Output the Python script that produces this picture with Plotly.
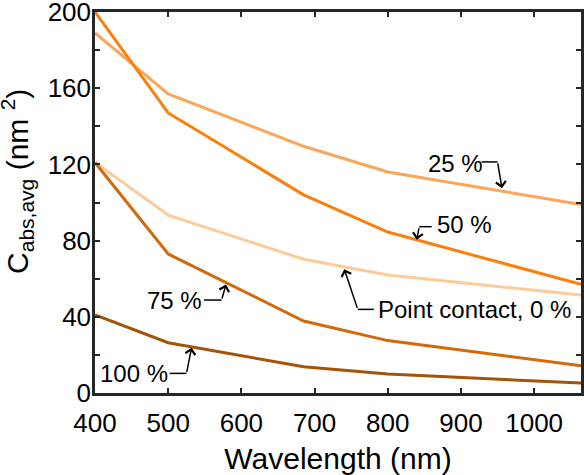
import plotly.graph_objects as go

wavelength = [400, 500, 685, 800, 1064]
c_25 = [189, 157, 129.5, 116, 99]
c_50 = [200, 147, 104, 84.5, 57]
c_pc = [121, 93.4, 70.2, 62, 51.4]
c_75 = [121, 73, 37.8, 27.5, 14.3]
c_100 = [41, 26.4, 13.8, 10, 5.2]

series = [
    ("Point contact, 0 %", c_pc, "#FDCB98"),
    ("25 %", c_25, "#FBA65A"),
    ("50 %", c_50, "#FB7F0C"),
    ("75 %", c_75, "#D06A0C"),
    ("100 %", c_100, "#A3540A"),
]

y_ticks = list(range(0, 201, 20))
y_ticktext = [str(v) if v % 40 == 0 else "" for v in y_ticks]
x_ticks = [400, 500, 600, 700, 800, 900, 1000]

FONT = "Arial, Liberation Sans, sans-serif"
AXC = "#262626"

fig = go.Figure()
for name, vals, col in series:
    fig.add_trace(go.Scatter(x=wavelength, y=vals, mode="lines", name=name,
                             line=dict(color=col, width=3), showlegend=False))

# label: (text, text_x, text_y, seg_x0, seg_x1, seg_y, tip_x, tip_y)
labels = [
    ("25 %", 892, 120.7, 928, 950, 121.3, 956, 107.5),
    ("50 %", 905, 88.2, 860, 843, 87.3, 839.5, 80.5),
    ("Point contact, 0 %", 918, 44, 781, 759, 43.9, 740.6, 65),
    ("75 %", 509, 48.3, 549, 573, 48.8, 579, 57),
    ("100 %", 453, 10, 502, 525, 10.3, 532, 23.8),
]

for text, tx, ty, sx0, sx1, sy, px, py in labels:
    fig.add_annotation(x=tx, y=ty, text=text, showarrow=False,
                       font=dict(family=FONT, size=24, color="black"))
    fig.add_shape(type="line", x0=sx0, x1=sx1, y0=sy, y1=sy, xref="x", yref="y",
                  line=dict(color="black", width=1.5))
    fig.add_annotation(x=px, y=py, ax=sx1, ay=sy, axref="x", ayref="y", text="",
                       showarrow=True, arrowhead=4, arrowsize=1.3, arrowwidth=1.5,
                       arrowcolor="black")

# y-axis title as rotated annotation
fig.add_annotation(x=0, xref="paper", xshift=-78, y=0.554, yref="paper",
                   text="C<sub>abs,avg</sub> (nm <sup>2</sup>)", textangle=-90,
                   showarrow=False, xanchor="center", yanchor="middle",
                   font=dict(family=FONT, size=30, color="black"))

fig.update_layout(
    width=584, height=475,
    margin=dict(l=95, r=3, t=12, b=82),
    paper_bgcolor="white", plot_bgcolor="white",
    font=dict(family=FONT, size=26, color="black"),
)
fig.update_xaxes(range=[400, 1064], tickvals=x_ticks, ticks="inside", ticklen=5,
                 tickwidth=2, tickcolor=AXC, showline=True, linecolor=AXC, linewidth=2.5,
                 mirror="ticks", showgrid=False, zeroline=False, automargin=False,
                 tickfont=dict(size=26), ticklabelstandoff=5, ticklabeloverflow="allow",
                 title=dict(text="Wavelength (nm)", font=dict(size=30), standoff=14))
fig.update_yaxes(range=[0, 200], tickvals=y_ticks, ticktext=y_ticktext, ticks="inside",
                 ticklen=5, tickwidth=2, tickcolor=AXC, showline=True, linecolor=AXC,
                 linewidth=2.5, mirror="ticks", showgrid=False, zeroline=False,
                 automargin=False, tickfont=dict(size=26), ticklabelstandoff=-4,
                 ticklabeloverflow="allow")

fig.write_html("out.html")
